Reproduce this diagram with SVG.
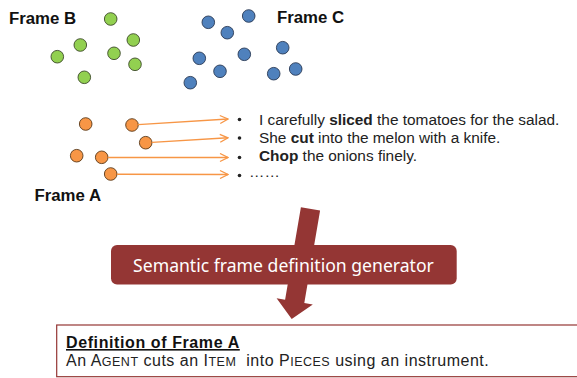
<svg xmlns="http://www.w3.org/2000/svg" width="577" height="378" viewBox="0 0 577 378">
<defs>
<marker id="oa" markerWidth="10" markerHeight="10" refX="9" refY="5" orient="auto" markerUnits="userSpaceOnUse">
<polyline points="1,1 9,5 1,9" fill="none" stroke="#F79646" stroke-width="1.3"/>
</marker>
<style>
.lbl{font-family:"Liberation Sans",Arial,sans-serif;font-weight:bold;font-size:16.8px;fill:#111}
.g{fill:#92D050;stroke:#3d4a2a;stroke-width:0.9}
.b{fill:#4F81BD;stroke:#2a3a55;stroke-width:0.9}
.o{fill:#F79646;stroke:#5a3a1a;stroke-width:0.9}
.ln{stroke:#F79646;stroke-width:1.4;fill:none;marker-end:url(#oa)}
.t{font-family:"Liberation Sans",Arial,sans-serif;font-size:15.4px;fill:#222}
.bt{font-family:"Liberation Sans",Arial,sans-serif;font-size:16px;letter-spacing:0.5px;fill:#222}
</style>
</defs>
<rect width="577" height="378" fill="#fff"/>

<g id="frameB">
<text class="lbl" x="9" y="24">Frame B</text>
<circle class="g" cx="110.7" cy="19" r="6.3"/>
<circle class="g" cx="80.3" cy="45" r="6.3"/>
<circle class="g" cx="133.3" cy="40" r="6.3"/>
<circle class="g" cx="57.3" cy="56.7" r="6.3"/>
<circle class="g" cx="114" cy="53.3" r="6.3"/>
<circle class="g" cx="135" cy="64.3" r="6.3"/>
<circle class="g" cx="84.3" cy="77.3" r="6.3"/>
</g>

<g id="frameC">
<text class="lbl" x="277" y="23">Frame C</text>
<circle class="b" cx="208.3" cy="22.3" r="6.3"/>
<circle class="b" cx="248.7" cy="16" r="6.3"/>
<circle class="b" cx="227.3" cy="32.7" r="6.3"/>
<circle class="b" cx="199.3" cy="58.3" r="6.3"/>
<circle class="b" cx="244.3" cy="54.3" r="6.3"/>
<circle class="b" cx="282.7" cy="47.7" r="6.3"/>
<circle class="b" cx="220" cy="71.3" r="6.3"/>
<circle class="b" cx="190.3" cy="82.7" r="6.3"/>
<circle class="b" cx="273.7" cy="73.7" r="6.3"/>
<circle class="b" cx="295.7" cy="69" r="6.3"/>
</g>

<g id="frameA">
<text class="lbl" x="34.5" y="201">Frame A</text>
<circle class="o" cx="85.7" cy="124" r="6.3"/>
<circle class="o" cx="132" cy="125" r="6.3"/>
<circle class="o" cx="145.7" cy="142.7" r="6.3"/>
<circle class="o" cx="76.7" cy="155.7" r="6.3"/>
<circle class="o" cx="101.7" cy="157.3" r="6.3"/>
<circle class="o" cx="110.7" cy="174" r="6.3"/>
</g>

<g id="examples">
<circle cx="239.5" cy="119.5" r="1.8" fill="#222"/>
<circle cx="239.5" cy="138" r="1.8" fill="#222"/>
<circle cx="239.5" cy="157.5" r="1.8" fill="#222"/>
<circle cx="239.5" cy="175.5" r="1.8" fill="#222"/>
<text class="t" x="259" y="124.5">I carefully <tspan font-weight="bold">sliced</tspan> the tomatoes for the salad.</text>
<text class="t" x="259" y="142.5">She <tspan font-weight="bold">cut</tspan> into the melon with a knife.</text>
<text class="t" x="259" y="161">
<tspan font-weight="bold">Chop</tspan> the onions finely.</text>
<text class="t" x="249" y="177" font-size="10">……</text>
</g>

<g id="connectors">
<line class="ln" x1="138" y1="124.6" x2="228" y2="119"/>
<line class="ln" x1="152" y1="142.4" x2="228" y2="137.8"/>
<line class="ln" x1="108" y1="157.5" x2="228" y2="157.5"/>
<line class="ln" x1="117" y1="174.2" x2="228" y2="174.5"/>
<polygon points="300.9,207.2 320.1,210.4 304.3,302.9 312.8,304.4 291.7,319 276.6,298.2 285.1,299.7" fill="#943634"/>
</g>

<g id="generator">
<rect x="111" y="245" width="345.7" height="39.5" rx="6" fill="#943634"/>
<text x="283.5" y="271.5" text-anchor="middle" font-family="'Noto Sans','Liberation Sans',Arial,sans-serif" font-size="17.6" fill="#fff">Semantic frame definition generator</text>
</g>

<g id="definition">
<rect x="56.7" y="325" width="530" height="51.7" fill="#fff" stroke="#943634" stroke-width="1.2"/>
<text x="66" y="348" font-family="'Liberation Sans',Arial,sans-serif" font-weight="bold" font-size="16" letter-spacing="0.6" fill="#111" text-decoration="underline">Definition of Frame A</text>
<text class="bt" x="66" y="366" xml:space="preserve">An A<tspan font-size="12.5">GENT</tspan> cuts an I<tspan font-size="12.5">TEM</tspan>  into P<tspan font-size="12.5">IECES</tspan> using an instrument.</text>
</g>
</svg>
